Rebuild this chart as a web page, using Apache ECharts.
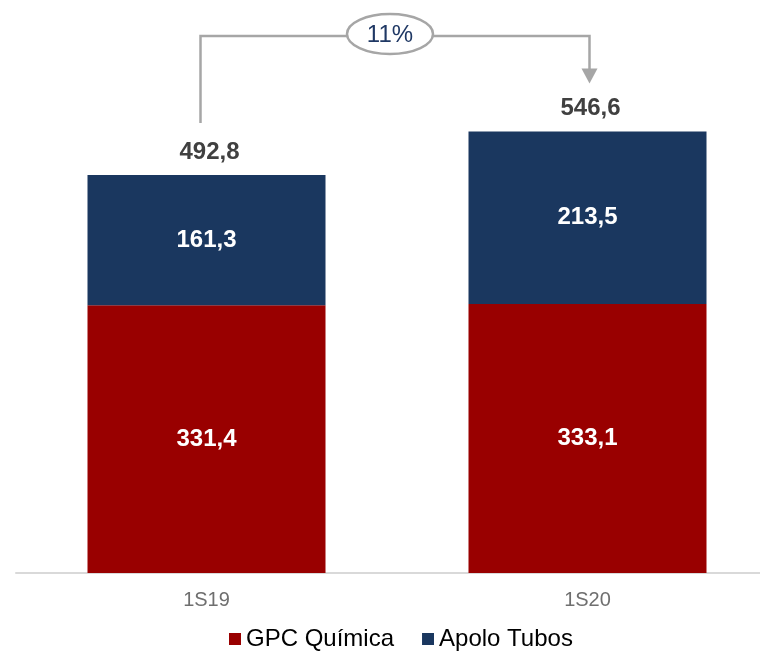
<!DOCTYPE html>
<html>
<head>
<meta charset="utf-8">
<script src="https://cdn.jsdelivr.net/npm/echarts@6/dist/echarts.min.js"></script>
<style>
  html, body { margin: 0; padding: 0; background: #fff; }
  #chart { width: 760px; height: 652px; }
</style>
</head>
<body>
<div id="chart"></div>
<script>
  // dados
  const categories = ['1S19', '1S20'];
  const gpcQuimica = [331.4, 333.1];
  const apoloTubos = [161.3, 213.5];
  const totals = [492.8, 546.6];
  const growthLabel = '11%';

  const FONT = '"Liberation Sans", Arial, sans-serif';
  const fmt = v => v.toFixed(1).replace('.', ',');

  const chart = echarts.init(document.getElementById('chart'));
  chart.setOption({
    animation: false,
    grid: { left: 16, width: 762, top: 7.7, height: 565.3, outerBoundsMode: 'none' },
    legend: {
      data: ['GPC Química', 'Apolo Tubos'],
      left: 229,
      top: 627,
      padding: 0,
      icon: 'rect',
      itemWidth: 12,
      itemHeight: 12,
      itemGap: 28,
      textStyle: { fontFamily: FONT, fontSize: 24, color: '#000' }
    },
    xAxis: {
      type: 'category',
      data: categories,
      axisLine: { lineStyle: { color: '#d9d9d9', width: 2 } },
      axisTick: { show: false },
      axisLabel: { fontFamily: FONT, fontSize: 20, color: '#6f6f6f', margin: 17 }
    },
    yAxis: { type: 'value', min: 0, max: 700, show: false },
    series: [
      {
        name: 'GPC Química',
        type: 'bar',
        stack: 'total',
        barWidth: 238,
        data: gpcQuimica,
        itemStyle: { color: '#990000' },
        label: {
          show: true, position: 'inside', formatter: p => fmt(p.value),
          fontFamily: FONT, fontSize: 24, fontWeight: 'bold', color: '#fff'
        }
      },
      {
        name: 'Apolo Tubos',
        type: 'bar',
        stack: 'total',
        barWidth: 238,
        data: apoloTubos,
        itemStyle: { color: '#1a375f' },
        label: {
          show: true, position: 'inside', formatter: p => fmt(p.value),
          fontFamily: FONT, fontSize: 24, fontWeight: 'bold', color: '#fff'
        }
      },
      {
        // só para mostrar o total em cima
        name: 'Total',
        type: 'bar',
        stack: 'total',
        barWidth: 238,
        data: totals.map(() => 0),
        itemStyle: { color: 'transparent' },
        label: {
          show: true, position: 'top', distance: 11, offset: [3, 0],
          formatter: p => fmt(totals[p.dataIndex]),
          fontFamily: FONT, fontSize: 24, fontWeight: 'bold', color: '#404040'
        }
      }
    ]
  });

  // seta de crescimento
  const p1 = chart.convertToPixel({ xAxisIndex: 0, yAxisIndex: 0 }, [0, totals[0]]);
  const p2 = chart.convertToPixel({ xAxisIndex: 0, yAxisIndex: 0 }, [1, totals[1]]);
  const lineY = 36;
  const x1 = p1[0] - 6, y1 = p1[1] - 52;
  const x2 = p2[0] + 2, tipY = p2[1] - 48;
  const midX = (x1 + x2) / 2 - 5;
  chart.setOption({
    graphic: [
      {
        type: 'polyline', z: 10,
        shape: { points: [[x1, y1], [x1, lineY], [x2, lineY], [x2, tipY - 14]] },
        style: { stroke: '#a6a6a6', lineWidth: 2.5, fill: null }
      },
      {
        type: 'polygon', z: 10,
        shape: { points: [[x2 - 8, tipY - 15], [x2 + 8, tipY - 15], [x2, tipY]] },
        style: { fill: '#a6a6a6' }
      },
      {
        type: 'ellipse', z: 11,
        shape: { cx: midX, cy: 34, rx: 43, ry: 20 },
        style: { fill: '#fff', stroke: '#a6a6a6', lineWidth: 2.5 }
      },
      {
        type: 'text', z: 12,
        x: midX, y: 35,
        style: {
          text: growthLabel, fill: '#1f3864', font: '24px ' + FONT,
          textAlign: 'center', textVerticalAlign: 'middle'
        }
      }
    ]
  });
</script>
</body>
</html>
